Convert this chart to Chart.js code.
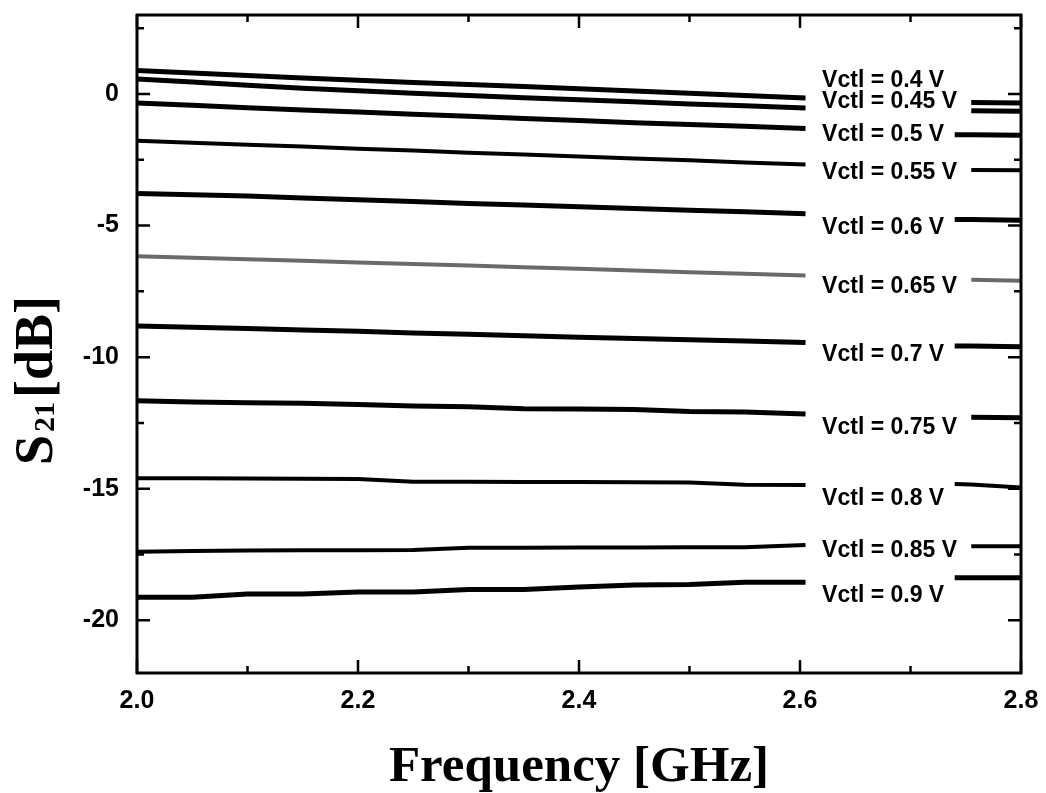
<!DOCTYPE html>
<html><head><meta charset="utf-8">
<script src="https://cdn.jsdelivr.net/npm/chart.js@4/dist/chart.umd.min.js"></script>
<style>html,body{margin:0;padding:0;background:#fff}canvas{display:block}</style>
</head><body>
<canvas id="c" width="1046" height="793"></canvas>
<script>
// ---- data ----
const frequency = [2.0, 2.05, 2.1, 2.15, 2.2, 2.25, 2.3, 2.35, 2.4, 2.45, 2.5, 2.55, 2.605, 2.68, 2.74, 2.755, 2.8];
const s21_040 = [0.89,0.80,0.70,0.61,0.52,0.44,0.36,0.28,0.20,0.11,0.03,-0.06,-0.15,null,null,-0.32,-0.34];
const s21_045 = [0.57,0.45,0.33,0.22,0.12,0.03,-0.06,-0.14,-0.22,-0.30,-0.38,-0.45,-0.53,null,null,-0.64,-0.66];
const s21_050 = [-0.34,-0.43,-0.52,-0.61,-0.69,-0.77,-0.85,-0.93,-1.01,-1.09,-1.16,-1.23,-1.31,null,-1.55,-1.55,-1.57];
const s21_055 = [-1.78,-1.85,-1.93,-2.00,-2.08,-2.15,-2.23,-2.30,-2.38,-2.45,-2.52,-2.60,-2.68,null,null,-2.89,-2.90];
const s21_060 = [-3.78,-3.83,-3.88,-3.95,-4.02,-4.09,-4.16,-4.22,-4.29,-4.35,-4.42,-4.48,-4.55,null,-4.77,-4.77,-4.80];
const s21_065 = [-6.17,-6.22,-6.28,-6.34,-6.40,-6.46,-6.52,-6.58,-6.64,-6.71,-6.77,-6.83,-6.90,null,null,-7.06,-7.10];
const s21_070 = [-8.82,-8.86,-8.91,-8.97,-9.02,-9.08,-9.13,-9.19,-9.24,-9.29,-9.34,-9.39,-9.44,null,-9.58,-9.58,-9.60];
const s21_075 = [-11.66,-11.70,-11.73,-11.75,-11.80,-11.86,-11.88,-11.96,-11.97,-11.99,-12.06,-12.08,-12.16,null,null,-12.28,-12.30];
const s21_080 = [-14.60,-14.60,-14.61,-14.62,-14.63,-14.73,-14.73,-14.74,-14.74,-14.75,-14.76,-14.85,-14.86,null,-14.82,-14.84,-14.95];
const s21_085 = [-17.39,-17.36,-17.35,-17.34,-17.34,-17.33,-17.24,-17.24,-17.23,-17.23,-17.22,-17.22,-17.14,null,null,-17.18,-17.18];
const s21_090 = [-19.12,-19.12,-19.00,-19.00,-18.92,-18.92,-18.83,-18.83,-18.73,-18.66,-18.64,-18.55,-18.55,null,-18.38,-18.38,-18.38];
const seriesNames = ['Vctl = 0.4 V','Vctl = 0.45 V','Vctl = 0.5 V','Vctl = 0.55 V','Vctl = 0.6 V','Vctl = 0.65 V','Vctl = 0.7 V','Vctl = 0.75 V','Vctl = 0.8 V','Vctl = 0.85 V','Vctl = 0.9 V'];
const labelFreq = 2.62;
const labelS21 = [0.51,-0.31,-1.53,-2.98,-5.08,-7.33,-9.92,-12.67,-15.38,-17.37,-19.05];
const xTickValues = [2.0, 2.2, 2.4, 2.6, 2.8];
const xTickLabels = ['2.0','2.2','2.4','2.6','2.8'];
const xMinorTicks = [2.1, 2.3, 2.5, 2.7];
const yTickValues = [0, -5, -10, -15, -20];
const yTickLabels = ['0','-5','-10','-15','-20'];
const yMinorTicks = [2.5, -2.5, -7.5, -12.5, -17.5];
const xTitle = 'Frequency [GHz]';
const yTitleMain = 'S', yTitleSub = '21', yTitleUnit = '[dB]';

const allSeries = [s21_040,s21_045,s21_050,s21_055,s21_060,s21_065,s21_070,s21_075,s21_080,s21_085,s21_090];

const framePlugin = {
  id: 'frame',
  afterDraw(chart) {
    const {ctx, chartArea: a, scales: {x, y}} = chart;
    ctx.save();
    ctx.strokeStyle = '#000';
    ctx.lineWidth = 3;
    ctx.strokeRect(a.left, a.top, a.right - a.left, a.bottom - a.top);
    ctx.lineWidth = 2.5;
    ctx.beginPath();
    const xt = (vals, len) => vals.forEach(v => {
      const p = x.getPixelForValue(v);
      ctx.moveTo(p, a.bottom); ctx.lineTo(p, a.bottom - len);
      ctx.moveTo(p, a.top); ctx.lineTo(p, a.top + len);
    });
    const yt = (vals, len) => vals.forEach(v => {
      const p = y.getPixelForValue(v);
      ctx.moveTo(a.left, p); ctx.lineTo(a.left + len, p);
      ctx.moveTo(a.right, p); ctx.lineTo(a.right - len, p);
    });
    xt(xTickValues, 13); xt(xMinorTicks, 7);
    yt(yTickValues, 13); yt(yMinorTicks, 7);
    ctx.stroke();

    // curve labels
    ctx.fillStyle = '#000';
    ctx.font = 'bold 23px "Liberation Sans", Arial, sans-serif';
    ctx.textAlign = 'left';
    ctx.textBaseline = 'middle';
    seriesNames.forEach((n, i) => {
      ctx.fillText(n, x.getPixelForValue(labelFreq), y.getPixelForValue(labelS21[i]));
    });

    // x title
    ctx.font = 'bold 51px "Liberation Serif", "Times New Roman", serif';
    ctx.textAlign = 'center';
    ctx.textBaseline = 'alphabetic';
    ctx.fillText(xTitle, (a.left + a.right) / 2, 781);

    // y title (rotated, with subscript)
    ctx.translate(52, 465);
    ctx.rotate(-Math.PI / 2);
    ctx.textAlign = 'left';
    ctx.font = 'bold 54px "Liberation Serif", "Times New Roman", serif';
    ctx.fillText(yTitleMain, 0, 0);
    let off = ctx.measureText(yTitleMain).width + 3;
    ctx.font = 'bold 30px "Liberation Serif", "Times New Roman", serif';
    ctx.fillText(yTitleSub, off, 2);
    off += ctx.measureText(yTitleSub).width + 4;
    ctx.font = 'bold 54px "Liberation Serif", "Times New Roman", serif';
    ctx.fillText(yTitleUnit, off, 0);
    ctx.restore();
  }
};

new Chart(document.getElementById('c'), {
  type: 'line',
  data: {
    datasets: allSeries.map((vals, i) => ({
      label: seriesNames[i],
      data: frequency.map((f, j) => ({x: f, y: vals[j]})),
      borderColor: i === 5 ? '#6a6a6a' : '#000',
      borderWidth: (i === 3 || i === 5 || i === 8 || i === 9) ? 4 : 5,
      pointRadius: 0,
      tension: 0,
      spanGaps: false,
      borderCapStyle: 'butt'
    }))
  },
  options: {
    responsive: false,
    animation: false,
    devicePixelRatio: 1,
    layout: {padding: {top: 15, right: 25, left: 0, bottom: 0}},
    plugins: {legend: {display: false}, tooltip: {enabled: false}},
    scales: {
      x: {
        type: 'linear', min: 2.0, max: 2.8,
        grid: {display: false}, border: {display: false},
        afterBuildTicks: s => { s.ticks = xTickValues.map(v => ({value: v})); },
        afterFit: s => { s.height = 120; s.paddingLeft = 0; s.paddingRight = 0; },
        ticks: {
          callback: v => xTickLabels[xTickValues.indexOf(v)],
          font: {family: '"Liberation Sans", Arial, sans-serif', weight: 'bold', size: 25},
          color: '#000', padding: 5, maxRotation: 0, autoSkip: false
        }
      },
      y: {
        type: 'linear', min: -22, max: 3,
        grid: {display: false}, border: {display: false},
        afterBuildTicks: s => { s.ticks = yTickValues.map(v => ({value: v})); },
        afterFit: s => { s.width = 137; s.paddingTop = 0; s.paddingBottom = 0; },
        ticks: {
          callback: v => yTickLabels[yTickValues.indexOf(v)],
          font: {family: '"Liberation Sans", Arial, sans-serif', weight: 'bold', size: 25},
          color: '#000', padding: 10, autoSkip: false
        }
      }
    }
  },
  plugins: [framePlugin]
});
</script>
</body></html>
